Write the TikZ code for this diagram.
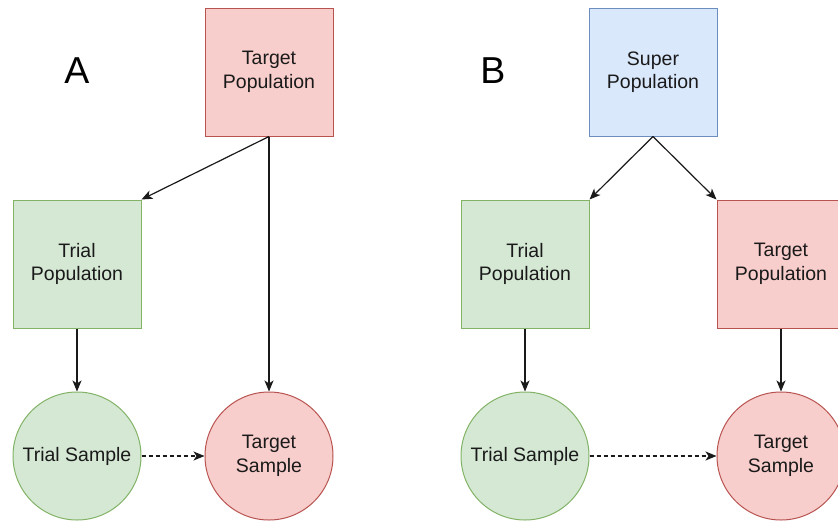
\documentclass[tikz,border=0pt]{standalone}
\usepackage{fontspec}
\setmainfont{Liberation Sans}
\usetikzlibrary{arrows.meta}
\definecolor{redfill}{HTML}{F8CECC}
\definecolor{redline}{HTML}{B85450}
\definecolor{greenfill}{HTML}{D5E8D4}
\definecolor{greenline}{HTML}{82B366}
\definecolor{bluefill}{HTML}{DAE8FC}
\definecolor{blueline}{HTML}{6C8EBF}
\definecolor{txt}{HTML}{1A1A1A}
\begin{document}
\begin{tikzpicture}[x=1pt,y=-1pt,
  base/.style={minimum size=128pt,inner sep=0pt,line width=1pt,align=center,
    text=txt,font=\fontsize{19.5}{23.4}\selectfont},
  boxnode/.style={base,rectangle},
  circnode/.style={base,circle},
  redstyle/.style={fill=redfill,draw=redline},
  greenstyle/.style={fill=greenfill,draw=greenline},
  bluestyle/.style={fill=bluefill,draw=blueline},
  panel/.style={font=\fontsize{37.5}{40}\selectfont,text=black,inner sep=0pt},
  edge/.style={line width=1.2pt,draw=txt,-{Stealth[length=11pt,width=9pt,inset=3pt]}},
  dashedge/.style={edge,dash pattern=on 4pt off 3pt}]
\clip (0,0) rectangle (838,523);
\fill[white] (0,0) rectangle (838,523);
% Panel A
\node[panel] (labA) at (77,71) {A};
\node[boxnode,redstyle] (tpA) at (269,72) {Target\\Population};
\node[boxnode,greenstyle] (trpA) at (77,264) {Trial\\Population};
\node[circnode,greenstyle] (trsA) at (77,456) {Trial Sample};
\node[circnode,redstyle] (tsA) at (269,456) {Target\\Sample};
\draw[edge] (tpA.south) -- (trpA.north east);
\draw[edge] (tpA.south) -- (tsA.north);
\draw[edge] (trpA.south) -- (trsA.north);
\draw[dashedge] (trsA.east) -- (tsA.west);
% Panel B
\node[panel] (labB) at (493,71) {B};
\node[boxnode,bluestyle] (spB) at (653,72) {Super\\Population};
\node[boxnode,greenstyle] (trpB) at (525,264) {Trial\\Population};
\node[boxnode,redstyle] (tpB) at (781,264) {Target\\Population};
\node[circnode,greenstyle] (trsB) at (525,456) {Trial Sample};
\node[circnode,redstyle] (tsB) at (781,456) {Target\\Sample};
\draw[edge] (spB.south) -- (trpB.north east);
\draw[edge] (spB.south) -- (tpB.north west);
\draw[edge] (trpB.south) -- (trsB.north);
\draw[edge] (tpB.south) -- (tsB.north);
\draw[dashedge] (trsB.east) -- (tsB.west);
\end{tikzpicture}
\end{document}
